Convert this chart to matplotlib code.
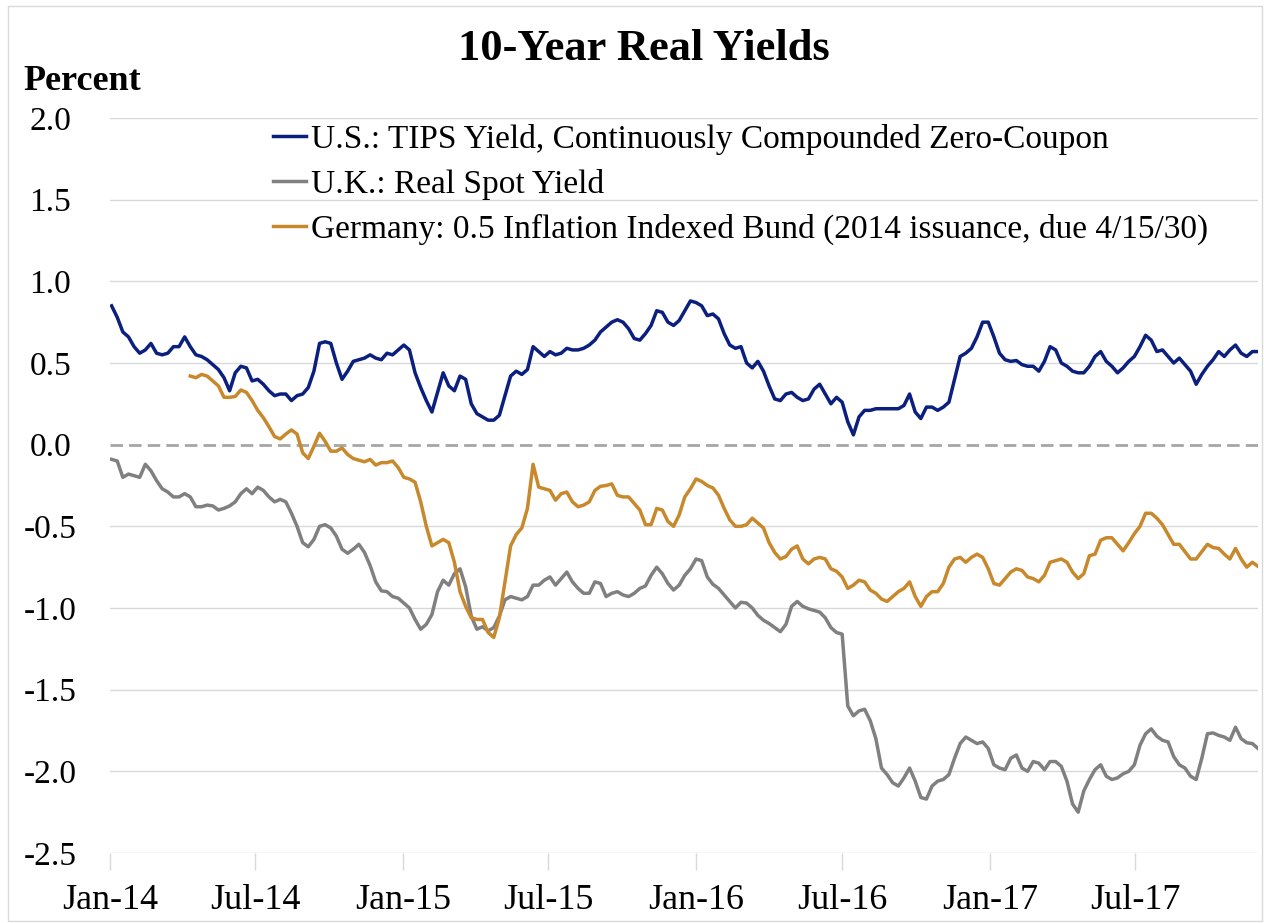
import matplotlib
matplotlib.use("Agg")
import matplotlib.pyplot as plt
import matplotlib.dates as mdates
from matplotlib.patches import Rectangle
import numpy as np
import pandas as pd

plt.rcParams['font.family'] = ['Liberation Serif', 'DejaVu Serif']
plt.rcParams['axes.unicode_minus'] = False

# ---------------- data (weekly, Fridays) ----------------
start_date = '2014-01-03'
n_weeks = 205

us_tips = [
    0.85, 0.78, 0.69, 0.66, 0.60, 0.56, 0.58, 0.62, 0.56, 0.55,
    0.56, 0.60, 0.60, 0.66, 0.60, 0.55, 0.54, 0.52, 0.49, 0.46,
    0.41, 0.33, 0.44, 0.48, 0.47, 0.39, 0.40, 0.37, 0.33, 0.30,
    0.31, 0.31, 0.27, 0.30, 0.31, 0.35, 0.45, 0.62, 0.63, 0.62,
    0.50, 0.40, 0.45, 0.51, 0.52, 0.53, 0.55, 0.53, 0.52, 0.56,
    0.55, 0.58, 0.61, 0.58, 0.44, 0.35, 0.27, 0.20, 0.32, 0.44,
    0.36, 0.33, 0.42, 0.40, 0.25, 0.19, 0.17, 0.15, 0.15, 0.18,
    0.30, 0.42, 0.45, 0.43, 0.46, 0.60, 0.57, 0.54, 0.57, 0.55,
    0.56, 0.59, 0.58, 0.58, 0.59, 0.61, 0.64, 0.69, 0.72, 0.75,
    0.765, 0.75, 0.71, 0.65, 0.64, 0.68, 0.73, 0.82, 0.81, 0.75,
    0.73, 0.76, 0.82, 0.88, 0.87, 0.85, 0.79, 0.80, 0.77, 0.68,
    0.61, 0.59, 0.60, 0.50, 0.47, 0.51, 0.45, 0.36, 0.28, 0.27,
    0.31, 0.32, 0.29, 0.27, 0.28, 0.34, 0.37, 0.31, 0.25, 0.29,
    0.26, 0.14, 0.06, 0.17, 0.21, 0.21, 0.22, 0.22, 0.22, 0.22,
    0.22, 0.24, 0.31, 0.20, 0.16, 0.23, 0.23, 0.21, 0.23, 0.26,
    0.40, 0.54, 0.56, 0.59, 0.66, 0.75, 0.75, 0.66, 0.56, 0.52,
    0.51, 0.515, 0.49, 0.48, 0.48, 0.45, 0.51, 0.60, 0.58, 0.50,
    0.48, 0.45, 0.44, 0.44, 0.48, 0.54, 0.57, 0.51, 0.48, 0.44,
    0.47, 0.51, 0.54, 0.60, 0.67, 0.64, 0.57, 0.58, 0.54, 0.50,
    0.53, 0.49, 0.45, 0.37, 0.43, 0.48, 0.52, 0.57, 0.54, 0.58,
    0.61, 0.56, 0.54, 0.57, 0.57,
]

uk_real = [
    -0.09, -0.10, -0.20, -0.18, -0.19, -0.20, -0.12, -0.16, -0.22, -0.27,
    -0.29, -0.32, -0.32, -0.30, -0.32, -0.38, -0.38, -0.37, -0.375, -0.40,
    -0.39, -0.375, -0.35, -0.30, -0.27, -0.30, -0.26, -0.28, -0.32, -0.35,
    -0.335, -0.35, -0.42, -0.50, -0.60, -0.625, -0.58, -0.50, -0.49, -0.51,
    -0.56, -0.64, -0.665, -0.64, -0.61, -0.66, -0.74, -0.84, -0.895, -0.90,
    -0.93, -0.94, -0.97, -1.00, -1.07, -1.13, -1.10, -1.04, -0.90, -0.83,
    -0.86, -0.79, -0.76, -0.87, -1.05, -1.13, -1.115, -1.14, -1.12, -1.05,
    -0.95, -0.93, -0.94, -0.95, -0.93, -0.86, -0.86, -0.83, -0.81, -0.86,
    -0.82, -0.78, -0.84, -0.88, -0.91, -0.91, -0.84, -0.85, -0.93, -0.91,
    -0.90, -0.92, -0.93, -0.91, -0.88, -0.865, -0.80, -0.75, -0.79, -0.85,
    -0.89, -0.86, -0.80, -0.76, -0.70, -0.71, -0.81, -0.855, -0.88, -0.92,
    -0.96, -1.00, -0.965, -0.97, -1.00, -1.045, -1.075, -1.095, -1.12, -1.145,
    -1.10, -0.99, -0.96, -0.99, -1.005, -1.015, -1.025, -1.06, -1.12, -1.15,
    -1.16, -1.60, -1.66, -1.63, -1.62, -1.69, -1.80, -1.98, -2.02, -2.07,
    -2.09, -2.04, -1.98, -2.06, -2.16, -2.17, -2.09, -2.06, -2.05, -2.02,
    -1.92, -1.83, -1.79, -1.81, -1.83, -1.82, -1.86, -1.96, -1.98, -1.99,
    -1.92, -1.90, -1.98, -2.00, -1.94, -1.95, -1.99, -1.94, -1.94, -1.97,
    -2.06, -2.20, -2.25, -2.12, -2.05, -1.99, -1.96, -2.03, -2.05, -2.04,
    -2.015, -2.00, -1.96, -1.84, -1.77, -1.74, -1.785, -1.81, -1.82, -1.91,
    -1.96, -1.98, -2.03, -2.05, -1.92, -1.77, -1.765, -1.78, -1.79, -1.81,
    -1.73, -1.80, -1.825, -1.83, -1.86,
]

germany_bund = [np.nan] * 14 + [
    0.42, 0.41, 0.43, 0.42, 0.39, 0.36, 0.29, 0.29, 0.295, 0.335,
    0.32, 0.27, 0.21, 0.165, 0.11, 0.05, 0.035, 0.065, 0.09, 0.065,
    -0.05, -0.085, -0.01, 0.07, 0.02, -0.04, -0.04, -0.02, -0.06, -0.085,
    -0.095, -0.105, -0.09, -0.125, -0.11, -0.11, -0.10, -0.14, -0.20, -0.21,
    -0.23, -0.35, -0.50, -0.62, -0.60, -0.58, -0.60, -0.72, -0.90, -0.99,
    -1.06, -1.07, -1.07, -1.15, -1.18, -1.06, -0.84, -0.62, -0.55, -0.51,
    -0.39, -0.12, -0.26, -0.27, -0.28, -0.34, -0.30, -0.29, -0.35, -0.38,
    -0.37, -0.35, -0.28, -0.255, -0.25, -0.24, -0.31, -0.32, -0.32, -0.36,
    -0.40, -0.49, -0.49, -0.39, -0.40, -0.47, -0.50, -0.43, -0.32, -0.27,
    -0.21, -0.225, -0.25, -0.265, -0.31, -0.39, -0.46, -0.50, -0.50, -0.49,
    -0.45, -0.48, -0.51, -0.60, -0.66, -0.70, -0.685, -0.64, -0.62, -0.70,
    -0.73, -0.70, -0.69, -0.70, -0.76, -0.775, -0.81, -0.88, -0.86, -0.83,
    -0.84, -0.89, -0.91, -0.945, -0.96, -0.93, -0.90, -0.88, -0.84, -0.93,
    -0.99, -0.93, -0.90, -0.90, -0.85, -0.75, -0.70, -0.69, -0.72, -0.69,
    -0.67, -0.69, -0.76, -0.85, -0.86, -0.82, -0.78, -0.76, -0.77, -0.81,
    -0.82, -0.84, -0.80, -0.72, -0.71, -0.70, -0.72, -0.78, -0.82, -0.79,
    -0.68, -0.67, -0.585, -0.57, -0.57, -0.61, -0.65, -0.60, -0.545, -0.50,
    -0.42, -0.42, -0.45, -0.49, -0.55, -0.61, -0.61, -0.655, -0.70, -0.70,
    -0.655, -0.61, -0.63, -0.635, -0.67, -0.70, -0.635, -0.70, -0.75, -0.72,
    -0.745,
]

series_labels = [
    'U.S.: TIPS Yield, Continuously Compounded Zero-Coupon',
    'U.K.: Real Spot Yield',
    'Germany: 0.5 Inflation Indexed Bund (2014 issuance, due 4/15/30)',
]
series_colors = ['#0B1F7E', '#808080', '#C8882C']
y_ticks = [2.0, 1.5, 1.0, 0.5, 0.0, -0.5, -1.0, -1.5, -2.0, -2.5]
title = '10-Year Real Yields'
y_unit = 'Percent'

dates = pd.date_range(start_date, periods=n_weeks, freq='W-FRI')

# ---------------- figure ----------------
W, H = 1264, 923
fig = plt.figure(figsize=(W / 100, H / 100), dpi=100)
ax = fig.add_axes([110 / W, 1 - 853 / H, 1148 / W, 735 / H])

# gridlines
for yv in y_ticks:
    if yv != 0:
        ax.axhline(yv, color='#D9D9D9', lw=1.0, zorder=1)
ax.axhline(0, color='#A6A6A6', lw=2.0, ls=(0, (4.5, 2.2)), zorder=1)

for vals, lab, col in zip([us_tips, uk_real, germany_bund], series_labels, series_colors):
    ax.plot(dates, vals, color=col, lw=2.5, label=lab, zorder=3)

ax.set_ylim(-2.5, 2.0)
ax.set_xlim(pd.Timestamp('2014-01-01'), dates[-1])
ax.set_yticks(y_ticks)
ax.set_yticklabels([f'{v:.1f}' for v in y_ticks])
for t in ax.get_yticklabels():
    t.set_horizontalalignment('center')

ax.xaxis.set_major_locator(mdates.MonthLocator(bymonth=[1, 7]))
ax.xaxis.set_major_formatter(mdates.DateFormatter('%b-%y'))

for s in ax.spines.values():
    s.set_visible(False)

ax.tick_params(axis='y', length=0, pad=43, labelsize=24)
ax.tick_params(axis='x', direction='out', length=12, width=1.0, color='#D9D9D9',
               labelsize=26, pad=10)

leg = ax.legend(loc='upper left', bbox_to_anchor=(273 / W, 1 - 124 / H),
                bbox_transform=fig.transFigure, frameon=False, fontsize=24,
                handlelength=1.0, handletextpad=0.15, labelspacing=0.42,
                borderpad=0, borderaxespad=0)

fig.text(644 / W, 1 - 49 / H, title, ha='center', va='center',
         fontsize=32, fontweight='bold')
fig.text(23 / W, 1 - 81 / H, y_unit, ha='left', va='center',
         fontsize=26, fontweight='bold')

fig.patches.append(Rectangle((8 / W, 2 / H), (W - 10) / W, (H - 8) / H,
                             transform=fig.transFigure, fill=False,
                             ec='#D9D9D9', lw=1.0))

fig.savefig('out.png', dpi=100)
